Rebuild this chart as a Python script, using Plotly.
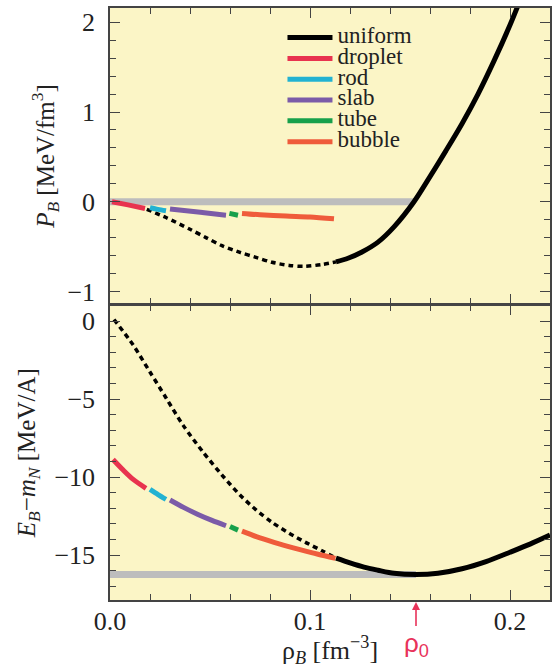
import plotly.graph_objects as go

# ---------------- data ----------------
# Pressure panel (MeV/fm^3)
rho_unif_dot_P = [0.0184, 0.028, 0.040, 0.048, 0.056, 0.065, 0.073, 0.081, 0.0896, 0.097, 0.106, 0.113]
P_unif_dot = [-0.084, -0.176, -0.307, -0.40, -0.49, -0.565, -0.62, -0.675, -0.71, -0.72, -0.70, -0.67]
rho_unif_P = [0.113, 0.119, 0.126, 0.134, 0.142, 0.152, 0.160, 0.168, 0.176, 0.184, 0.192, 0.200, 0.206]
P_unif = [-0.67, -0.63, -0.56, -0.45, -0.28, 0.0, 0.28, 0.57, 0.87, 1.20, 1.57, 1.97, 2.30]

rho_droplet_P = [0.001, 0.009, 0.0175]
P_droplet = [0.0, -0.035, -0.075]
rho_rod_P = [0.020, 0.024, 0.028]
P_rod = [-0.065, -0.085, -0.10]
rho_slab_P = [0.030, 0.044, 0.058]
P_slab = [-0.08, -0.115, -0.15]
rho_tube_P = [0.0597, 0.064]
P_tube = [-0.13, -0.15]
rho_bubble_P = [0.066, 0.075, 0.088, 0.100, 0.112]
P_bubble = [-0.13, -0.145, -0.16, -0.17, -0.19]

gray_P_x = [0.0, 0.152]
gray_P_y = [0.0, 0.0]

# Energy panel (MeV/A)
rho_unif_dot_E = [0.002, 0.0116, 0.0199, 0.0282, 0.0365, 0.0464, 0.056, 0.065, 0.073, 0.081, 0.0896, 0.098, 0.106, 0.113]
E_unif_dot = [0.1, -1.54, -3.25, -4.96, -6.67, -8.38, -9.87, -11.15, -12.1, -12.9, -13.6, -14.2, -14.72, -15.2]
rho_unif_E = [0.113, 0.120, 0.127, 0.134, 0.142, 0.153, 0.164, 0.176, 0.188, 0.200, 0.210, 0.220]
E_unif = [-15.2, -15.5, -15.77, -15.97, -16.17, -16.25, -16.17, -15.88, -15.42, -14.82, -14.3, -13.72]

rho_droplet_E = [0.0015, 0.0066, 0.0116, 0.018]
E_droplet = [-8.87, -9.55, -10.15, -10.72]
rho_rod_E = [0.020, 0.024, 0.028]
E_rod = [-10.79, -11.12, -11.43]
rho_slab_E = [0.030, 0.037, 0.044, 0.051, 0.058]
E_slab = [-11.47, -11.96, -12.4, -12.78, -13.12]
rho_tube_E = [0.060, 0.064]
E_tube = [-13.17, -13.4]
rho_bubble_E = [0.066, 0.075, 0.085, 0.095, 0.104, 0.1127]
E_bubble = [-13.46, -13.9, -14.3, -14.65, -14.95, -15.21]

gray_E_x = [0.0, 0.153]
gray_E_y = [-16.25, -16.25]

rho0 = 0.153

# ---------------- styles ----------------
C_UNIF = "#000000"
C_DROP = "#E8334F"
C_ROD = "#22B2D2"
C_SLAB = "#7B5BA8"
C_TUBE = "#17A04B"
C_BUB = "#EF5B3B"
C_GRAY = "#BDBDBD"
C_RHO0 = "#E8335A"
BG = "#FBF5C6"
FONT = "Liberation Serif"
LW = 5

fig = go.Figure()

def add(x, y, color, name=None, xa="x", ya="y", dash="solid", width=LW, legend=False, shape="spline"):
    fig.add_trace(go.Scatter(
        x=x, y=y, mode="lines", showlegend=legend,
        name=(f"<span style='font-family:Liberation Serif,serif;font-size:23px'>{name}</span>" if name else None),
        line=dict(color=color, width=width, dash=dash, shape=shape, smoothing=0.8),
        xaxis=xa, yaxis=ya, hoverinfo="skip"))

# top panel
add(gray_P_x, gray_P_y, C_GRAY, width=7, shape="linear")
add(rho_unif_dot_P, P_unif_dot, C_UNIF, dash="5px,4px", width=3.5)
add(rho_unif_P, P_unif, C_UNIF, name="uniform", legend=True)
add(rho_droplet_P, P_droplet, C_DROP, name="droplet", legend=True)
add(rho_rod_P, P_rod, C_ROD, name="rod", legend=True)
add(rho_slab_P, P_slab, C_SLAB, name="slab", legend=True)
add(rho_tube_P, P_tube, C_TUBE, name="tube", legend=True)
add(rho_bubble_P, P_bubble, C_BUB, name="bubble", legend=True)

# bottom panel
add(gray_E_x, gray_E_y, C_GRAY, xa="x2", ya="y2", width=7, shape="linear")
add(rho_unif_dot_E, E_unif_dot, C_UNIF, xa="x2", ya="y2", dash="5px,4px", width=3.5)
add(rho_unif_E, E_unif, C_UNIF, xa="x2", ya="y2")
add(rho_droplet_E, E_droplet, C_DROP, xa="x2", ya="y2")
add(rho_rod_E, E_rod, C_ROD, xa="x2", ya="y2")
add(rho_slab_E, E_slab, C_SLAB, xa="x2", ya="y2")
add(rho_tube_E, E_tube, C_TUBE, xa="x2", ya="y2")
add(rho_bubble_E, E_bubble, C_BUB, xa="x2", ya="y2")

axis_common = dict(
    showline=True, linecolor="#444444", linewidth=1.5, mirror="ticks",
    ticks="inside", tickcolor="#444444", tickwidth=1.2, showgrid=False, zeroline=False,
    tickfont=dict(family=FONT, size=26, color="#222222"),
)
minor_common = dict(ticklen=6, ticks="inside", tickcolor="#444444", tickwidth=1.2)

fig.update_layout(
    width=552, height=668,
    margin=dict(l=110, r=0, t=8, b=68),
    paper_bgcolor="white", plot_bgcolor=BG,
    font=dict(family=FONT, color="#222222"),
    xaxis=dict(axis_common, domain=[0, 1], anchor="y", range=[0, 0.22], dtick=0.1, tick0=0,
               ticklen=10, showticklabels=False, matches="x2",
               minor=dict(minor_common, dtick=0.02, tick0=0)),
    yaxis=dict(axis_common, domain=[0.5, 1], anchor="x", range=[-1.14, 2.16], dtick=1, tick0=0,
               ticklen=10, ticklabelstandoff=8,
               minor=dict(minor_common, dtick=0.2, tick0=0),
               title=dict(text="<i>P<sub>B</sub></i> [MeV/fm<sup>3</sup>]", standoff=6,
                          font=dict(family=FONT, size=25, color="#222222"))),
    xaxis2=dict(axis_common, domain=[0, 1], anchor="y2", range=[0, 0.22], dtick=0.1, tick0=0,
                ticklen=10, tickformat=".1f", ticklabelstandoff=-3,
                minor=dict(minor_common, dtick=0.02, tick0=0),
                title=dict(text="ρ<sub><i>B</i></sub> [fm<sup>−3</sup>]", standoff=0,
                           font=dict(family=FONT, size=26, color="#222222"))),
    yaxis2=dict(axis_common, domain=[0, 0.4975], anchor="x2", range=[-17.88, 1.0], dtick=5, tick0=0,
                ticklen=10, ticklabelstandoff=8,
                minor=dict(minor_common, dtick=1, tick0=0),
                title=dict(text="<i>E<sub>B</sub></i>−<i>m<sub>N</sub></i> [MeV/A]", standoff=12,
                           font=dict(family=FONT, size=25, color="#222222"))),
    legend=dict(x=0.392, y=0.976, xanchor="left", yanchor="top",
                bgcolor="rgba(0,0,0,0)", borderwidth=0,
                font=dict(family=FONT, size=13.7, color="#222222"),
                itemwidth=45, tracegroupgap=0),
    showlegend=True,
)

fig.add_annotation(
    x=rho0, y=0, xref="x2", yref="paper",
    text="ρ<sub>0</sub>", showarrow=True, ax=0, ay=44,
    arrowhead=2, arrowsize=1, arrowwidth=1.6, arrowcolor=C_RHO0, standoff=2,
    font=dict(family="Liberation Sans", size=26, color=C_RHO0),
)

fig.write_html("out.html", config={"displayModeBar": False},
               post_script="document.body.style.margin='0';document.body.style.overflow='hidden';")
